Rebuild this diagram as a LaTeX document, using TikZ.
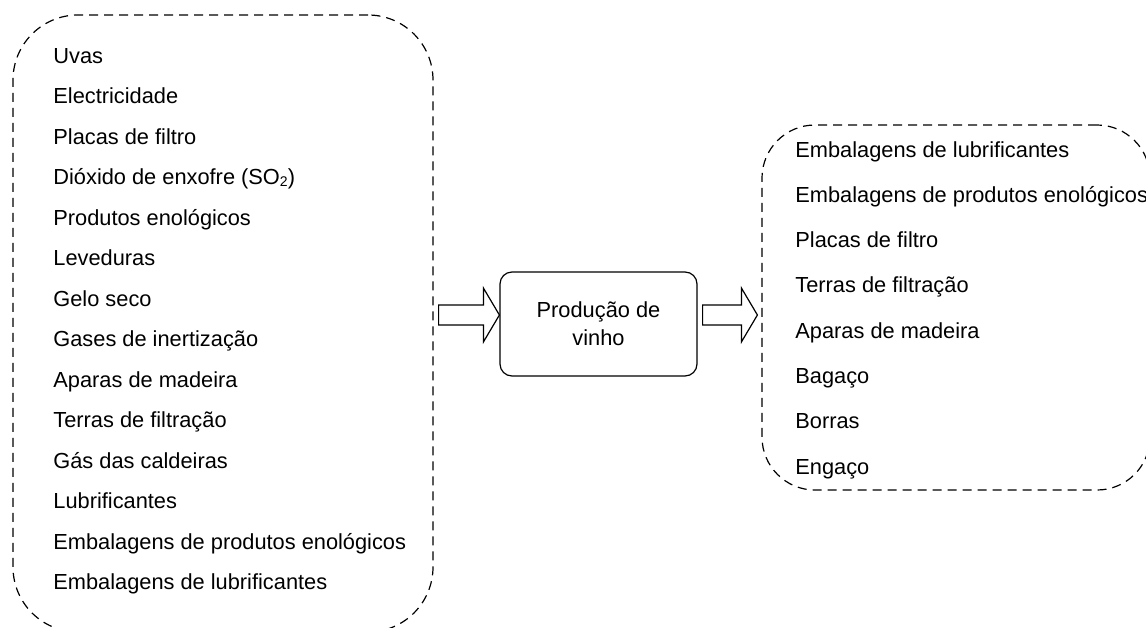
\documentclass[tikz,border=0pt]{standalone}
\usepackage{fontspec}
\setmainfont{Liberation Sans}
\usetikzlibrary{calc}
\newcommand\hollowarrow[2]{%
  \draw[arrowline] let \p1=(#1), \p2=(#2) in
    (\x1,\y1+5pt) -- (\x2-8pt,\y1+5pt) -- (\x2-8pt,\y1+13.5pt) -- (\x2,\y1)
    -- (\x2-8pt,\y1-13.5pt) -- (\x2-8pt,\y1-5pt) -- (\x1,\y1-5pt) -- cycle;}
\begin{document}
\begin{tikzpicture}[x=0.5pt,y=-0.5pt,
  every node/.style={font=\fontsize{10.9}{14}\selectfont},
  listbox/.style={draw,line width=0.6pt,dash pattern=on 4.5pt off 3pt,inner sep=0pt},
  item/.style={anchor=base west,inner sep=0pt},
  procbox/.style={draw,line width=0.6pt,rounded corners=6pt,align=center,
    minimum width=98.5pt,minimum height=52pt},
  arrowline/.style={draw,line width=0.6pt,fill=white}
  ]
    \useasboundingbox (0,0) rectangle (1146,627);

    \node[listbox,rounded corners=32.5pt,minimum width=210pt,minimum height=308.5pt] (inputs) at (223,323.5) {};
    \node[listbox,rounded corners=26.5pt,minimum width=194pt,minimum height=182.5pt] (outputs) at (956,307.5) {};
    \node[procbox] (prod) at (598.5,324) {Produção de\\vinho};

    \foreach \t [count=\i] in {Uvas,Electricidade,Placas de filtro,
        {Dióxido de enxofre (SO{\fontsize{7}{8}\selectfont\raisebox{-1.2pt}{2}})},
        Produtos enológicos,Leveduras,Gelo seco,Gases de inertização,Aparas de madeira,
        Terras de filtração,Gás das caldeiras,Lubrificantes,
        Embalagens de produtos enológicos,Embalagens de lubrificantes}
      \node[item] (in\i) at (53,{63+40.5*(\i-1)}) {\t};

    \foreach \t [count=\i] in {Embalagens de lubrificantes,Embalagens de produtos enológicos,
        Placas de filtro,Terras de filtração,Aparas de madeira,Bagaço,Borras,Engaço}
      \node[item] (out\i) at (795,{157+45.3*(\i-1)}) {\t};

    \coordinate (a1) at ([xshift=2.5pt,yshift=4.5pt]inputs.east |- prod.west);
    \coordinate (b1) at ([yshift=4.5pt]prod.west);
    \coordinate (a2) at ([xshift=2.5pt,yshift=4.5pt]prod.east);
    \coordinate (b2) at ([xshift=-2pt]outputs.west |- a2);
    \hollowarrow{a1}{b1}
    \hollowarrow{a2}{b2}
\end{tikzpicture}
\end{document}
